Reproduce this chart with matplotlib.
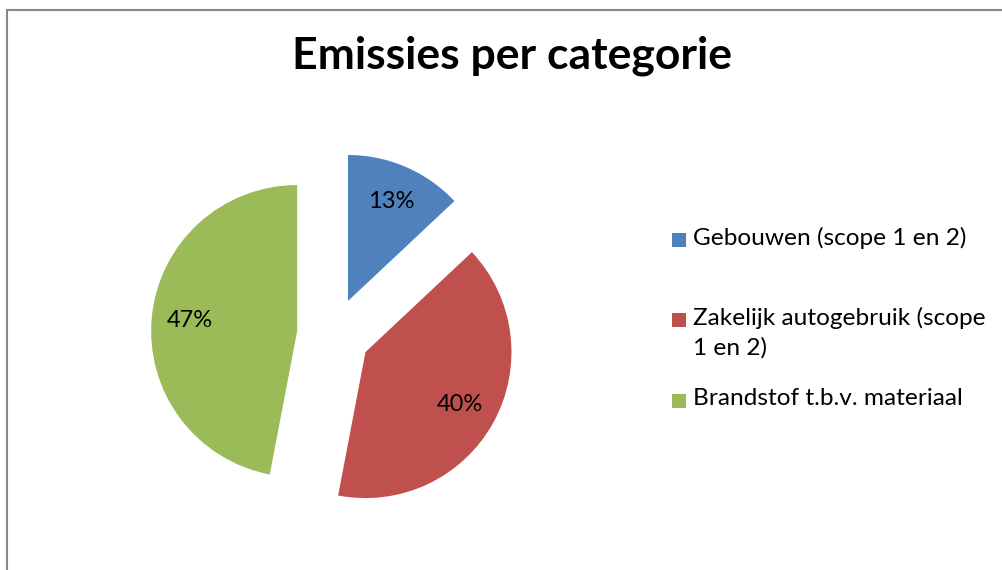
import textwrap
import matplotlib
matplotlib.use("Agg")
import matplotlib.pyplot as plt
from matplotlib.patches import Rectangle

categories = ["Gebouwen (scope 1 en 2)",
              "Zakelijk autogebruik (scope 1 en 2)",
              "Brandstof t.b.v. materiaal"]
shares = [13, 40, 47]
colors = ["#4F81BD", "#C0504D", "#9BBB59"]
title = "Emissies per categorie"

plt.rcParams["font.family"] = ["Lato", "DejaVu Sans"]

W, H = 1002, 570
fig = plt.figure(figsize=(W / 100, H / 100), dpi=100)

# pie axes over the whole figure, 1 data unit = 146 px
R = 146.0
cx, cy = 333.5, 334.5
ax = fig.add_axes([0, 0, 1, 1])
ax.pie(shares, colors=colors, startangle=90, counterclock=False,
       explode=[0.25] * 3, autopct="%1.0f%%", pctdistance=0.74,
       textprops=dict(fontsize=17, color="black"))
ax.set_xlim(-cx / R, (W - cx) / R)
ax.set_ylim(-(H - cy) / R, cy / R)
ax.set_aspect("auto")
ax.axis("off")

# chart frame
fig.patches.append(Rectangle((6.5 / W, -0.1), 1.2, (H - 10.5) / H + 0.1,
                             transform=fig.transFigure, fill=False,
                             edgecolor="#888888", linewidth=1.5))

fig.text(511.5 / W, 1 - 69 / H, title, ha="center", va="baseline",
         fontsize=32, fontweight="bold")

# legend
leg_y = [239.5, 319.7, 400.5]
for name, col, y in zip(categories, colors, leg_y):
    fig.patches.append(Rectangle((672 / W, 1 - (y + 7) / H), 14 / W, 14 / H,
                                 transform=fig.transFigure, facecolor=col,
                                 edgecolor="none"))
    fig.text(693 / W, 1 - (y - 12.5) / H, textwrap.fill(name, 27),
             ha="left", va="top", fontsize=17.6, linespacing=1.43)

fig.savefig("out.png", dpi=100)
